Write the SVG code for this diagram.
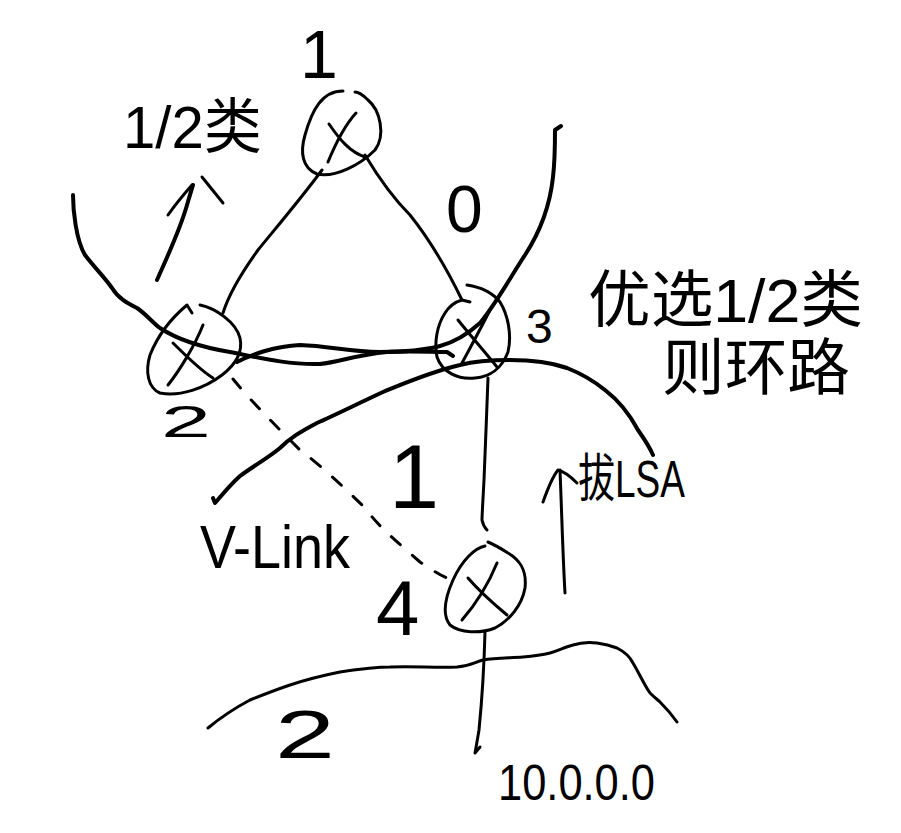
<svg xmlns="http://www.w3.org/2000/svg" width="901" height="833" viewBox="0 0 901 833">
<style>
.s{fill:none;stroke:#000;stroke-width:3;stroke-linecap:round;stroke-linejoin:round}
.t{stroke-width:4}
.d{stroke-dasharray:12 16}
.lb{font-family:"Liberation Sans","Noto Sans CJK SC",sans-serif;fill:#000}
</style>
<rect width="901" height="833" fill="#fff"/>
<g id="connectors">
<path class="s" d="M322,170 C300,200 270,235 258,250 C245,268 230,290 223,313"/>
<path class="s" d="M365,155 C380,180 395,200 410,215 C430,240 445,265 462,300 L470,302"/>
<path class="s t" d="M73,195 C73,210 76,240 85,255 C95,268 105,278 112,288 C118,298 127,303 137,308 C147,315 152,322 160,328 C175,338 200,347 230,352 C260,358 290,365 320,364 C340,362 355,355 387,352 C410,351 430,352 447,352 L453,356"/>
<path class="s t" d="M237,362 C250,355 275,346 300,345 C330,346 350,352 380,352 C405,352 425,350 440,346 C455,342 470,332 480,323 C495,305 510,278 525,255 C540,232 550,205 553,177 C555,160 555,145 555,130 L561,126"/>
<path class="s t" d="M213,498 L215,503 C222,495 230,485 240,476 C255,465 268,458 280,448 C290,438 300,432 317,423 C335,415 355,405 383,392 C405,383 430,372 460,365 C475,361 490,360 510,360 C530,360 550,362 567,368 C585,375 595,382 605,390 C618,400 630,415 638,430 C645,440 650,448 653,455"/>
<path class="s" d="M488,378 C487,410 485,450 484,480 C483,500 482,515 482,520 C483,525 485,528 487,530"/>
<path class="s d" d="M233,379 C250,400 275,425 300,450 C320,465 345,488 365,508 C380,528 395,540 420,562 C432,570 440,575 447,578"/>
<path class="s" d="M485,632 C484,670 482,700 479,730 C477,742 476,748 475,753 L480,747"/>
<path class="s" d="M208,728 C220,718 235,708 250,700 C265,694 275,690 290,685 C305,680 320,676 340,672 C360,669 375,667 390,667 C415,666 435,668 457,667 C470,666 475,662 483,660 C495,658 510,658 523,657 C535,656 542,655 550,653 C560,650 565,647 573,645 C582,642 590,642 597,643 C605,644 612,646 617,648 C625,652 630,657 633,663 C640,675 645,686 650,693 C655,698 658,700 660,702 C666,708 672,715 677,722"/>
<path class="s" d="M565,593 C563,560 562,520 560,470"/>
<path class="s" d="M543,502 C548,488 553,476 558,470 C566,472 572,478 577,483"/>
<path class="s t" d="M157,280 C168,255 180,230 187,205 C190,195 192,188 193,185"/>
<path class="s" d="M168,215 C175,205 185,193 192,185"/>
<path class="s" d="M202,177 L223,203"/>
</g>
<g id="node-1">
<path class="s" d="M343,91 C322,91 312,110 305,135 C300,152 302,168 317,174 C335,178 360,165 375,150 C386,135 380,110 368,100 C362,94 358,92 355,92"/>
<path class="s" d="M356,113 C345,125 335,145 328,162 M329,124 C340,140 350,152 365,157"/>
<text class="lb" x="300" y="78" font-size="68">1</text>
</g>
<g id="node-2">
<path class="s" d="M192,313 L187,305 C175,315 160,330 150,355 C145,372 148,388 160,393 C180,397 205,388 222,375 C235,365 243,352 240,338 C236,322 215,308 200,305"/>
<path class="s" d="M203,325 C195,345 180,370 168,385 M173,343 C185,355 200,370 213,378"/>
<text class="lb" x="161" y="437" font-size="45" textLength="50" lengthAdjust="spacingAndGlyphs">2</text>
</g>
<g id="node-3">
<path class="s" d="M467,285 C480,287 492,292 500,302 C508,315 512,335 508,352 C502,368 490,377 475,378 C458,380 442,372 437,357 C434,343 437,325 445,313 C450,305 455,302 462,300"/>
<path class="s" d="M458,320 C470,335 485,352 497,367 M490,310 C480,330 470,348 462,363"/>
<text class="lb" x="526" y="343" font-size="48">3</text>
</g>
<g id="node-4">
<path class="s" d="M485,546 C475,548 462,560 453,580 C445,598 442,615 450,625 C460,633 480,634 495,628 C510,620 522,605 525,588 C527,570 520,560 508,553 C500,548 493,544 488,542"/>
<path class="s" d="M497,563 C488,585 475,605 462,620 M468,578 C480,592 495,605 507,615"/>
<text class="lb" x="376" y="635" font-size="78">4</text>
</g>
<g id="labels">
<text class="lb" x="123" y="148" font-size="60" textLength="139" lengthAdjust="spacingAndGlyphs">1/2类</text>
<text class="lb" x="446" y="232" font-size="66">0</text>
<text class="lb" x="588" y="322" font-size="62" textLength="275" lengthAdjust="spacingAndGlyphs">优选1/2类</text>
<text class="lb" x="662" y="390" font-size="62" textLength="188" lengthAdjust="spacingAndGlyphs">则环路</text>
<text class="lb" x="578" y="497" font-size="52" textLength="107" lengthAdjust="spacingAndGlyphs">拔LSA</text>
<text class="lb" x="389" y="508" font-size="90">1</text>
<text class="lb" x="200" y="568" font-size="62" textLength="150" lengthAdjust="spacingAndGlyphs">V-Link</text>
<text class="lb" x="275" y="758" font-size="68" textLength="60" lengthAdjust="spacingAndGlyphs">2</text>
<text class="lb" x="498" y="800" font-size="50" textLength="157" lengthAdjust="spacingAndGlyphs">10.0.0.0</text>
</g>
</svg>
